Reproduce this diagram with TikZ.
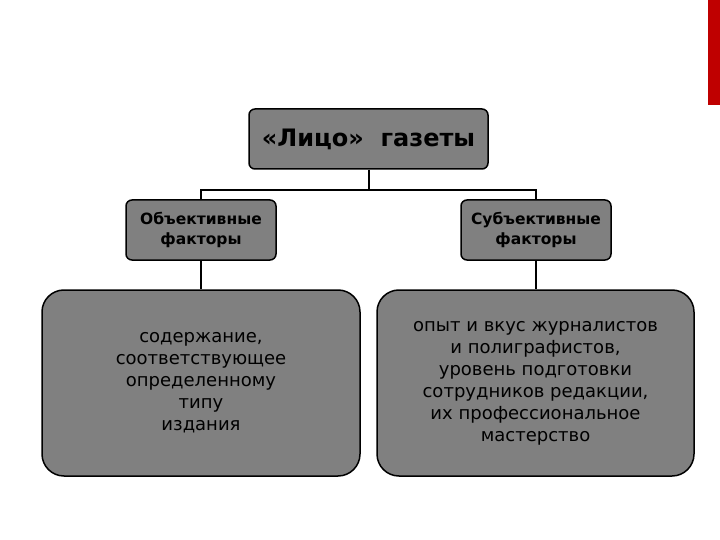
\documentclass[tikz,border=0pt]{standalone}
\usepackage{fontspec}
\setmainfont{DejaVu Sans}
\begin{document}
\begin{tikzpicture}[x=1pt,y=-1pt,
 box/.style={draw=black,line width=1.5pt,fill=black!50,rounded corners=6pt,inner sep=0pt,align=center},
 big/.style={box,rounded corners=22pt},
 conn/.style={line width=2pt}]
\useasboundingbox[fill=white] (0,0) rectangle (720,540);
\fill[red!75!black] (708,0) rectangle (720,105);
\node[box,minimum width=239pt,minimum height=60pt,font=\bfseries\fontsize{24}{28}\selectfont] (top) at (368.5,139) {«Лицо»\ \ газеты};
\node[box,minimum width=150pt,minimum height=60pt,font=\bfseries\fontsize{15.5}{20}\selectfont] (ol) at (201,230) {Объективные\\факторы};
\node[box,minimum width=150pt,minimum height=60pt,font=\bfseries\fontsize{15.5}{20}\selectfont] (or) at (536,230) {Субъективные\\факторы};
\node[big,minimum width=318pt,minimum height=186pt,font=\fontsize{18}{22}\selectfont] (bl) at (201,383) {содержание,\\соответствующее\\определенному\\типу\\издания};
\node[big,minimum width=317pt,minimum height=186pt,font=\fontsize{18}{22}\selectfont] (br) at (535.5,383) {опыт и вкус журналистов\\и полиграфистов,\\уровень подготовки\\сотрудников редакции,\\их профессиональное\\мастерство};
\coordinate (h) at (368.5,190);
\draw[conn] (top.south) -- (h);
\draw[conn] (ol.north) |- (h) -| (or.north);
\draw[conn] (ol.south) -- (ol.south |- bl.north);
\draw[conn] (or.south) -- (or.south |- bl.north);
\end{tikzpicture}
\end{document}
